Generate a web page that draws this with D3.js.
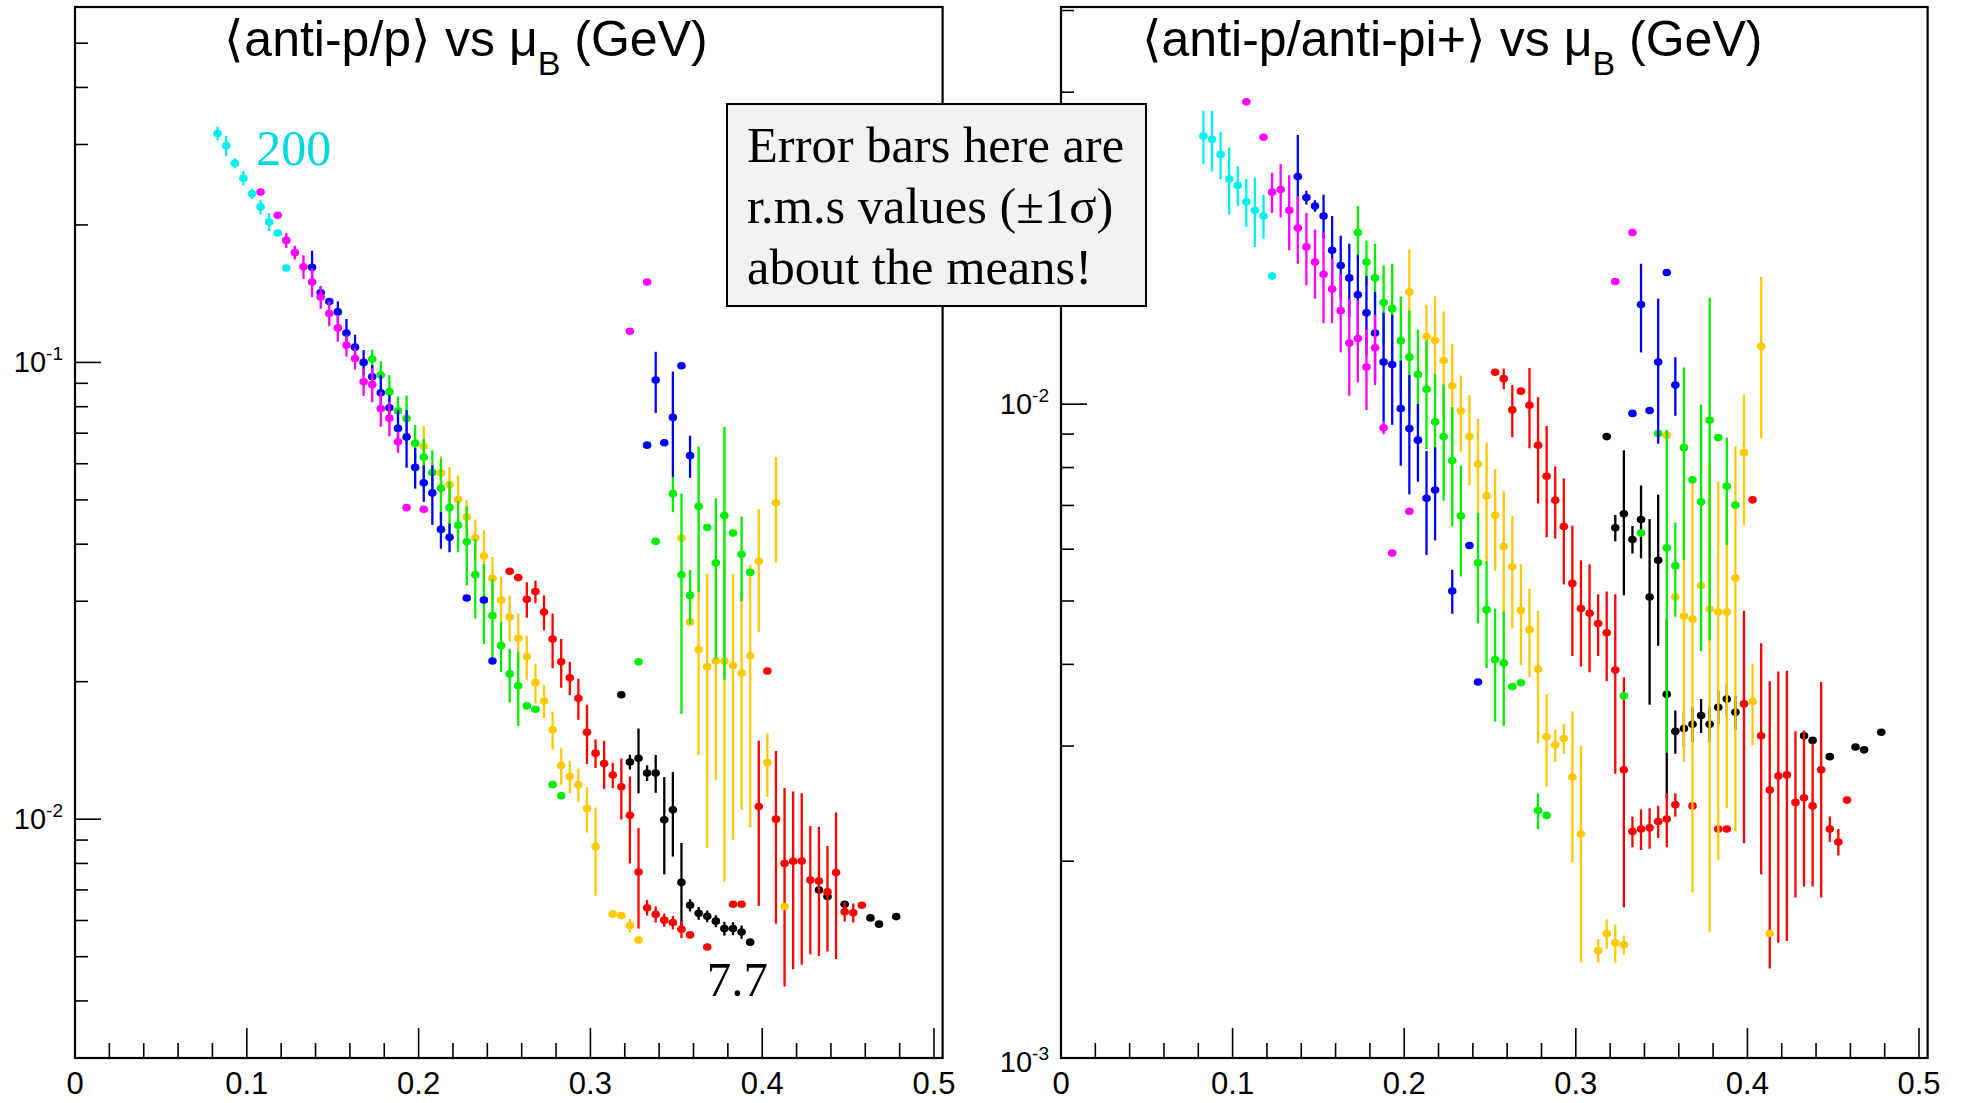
<!DOCTYPE html>
<html>
<head>
<meta charset="utf-8">
<script src="https://cdn.jsdelivr.net/npm/d3@7"></script>
<style>
  html, body { margin: 0; padding: 0; background: #ffffff; }
  svg { display: block; }
</style>
</head>
<body>
<svg id="chart" width="1961" height="1103"></svg>
<script>
// Collision energies (GeV) of the beam-energy-scan sets, one colour each.
const energies = ["200", "62.4", "39", "27", "19.6", "11.5", "7.7"];

// Each point: [mu_B (GeV), mean ratio, r.m.s. spread (±1σ)]
// ---- <anti-p/p> ----
const pp200 = [
  [0.083, 0.317, 0.011], [0.088, 0.298, 0.015], [0.093, 0.273, 0.007], [0.098, 0.253, 0.009],
  [0.103, 0.234, 0.006], [0.108, 0.219, 0.008], [0.113, 0.203, 0.009], [0.118, 0.192, 0.002],
  [0.123, 0.161, 0]
];
const pp62 = [
  [0.108, 0.236, 0], [0.118, 0.210, 0], [0.123, 0.185, 0.007], [0.128, 0.174, 0.006],
  [0.133, 0.162, 0.0096], [0.138, 0.150, 0.011], [0.143, 0.139, 0.008], [0.148, 0.128, 0.008],
  [0.153, 0.119, 0.008], [0.158, 0.109, 0.006], [0.163, 0.102, 0.0055], [0.168, 0.0907, 0.0063],
  [0.173, 0.0894, 0.0076], [0.178, 0.0793, 0.007], [0.183, 0.0755, 0.0066], [0.188, 0.067, 0.0036],
  [0.193, 0.0481, 0], [0.203, 0.0477, 0], [0.323, 0.117, 0], [0.333, 0.150, 0]
];
const pp39 = [
  [0.138, 0.1615, 0.014], [0.143, 0.142, 0.0046], [0.148, 0.136, 0.002], [0.153, 0.129, 0.007],
  [0.158, 0.116, 0.0085], [0.163, 0.108, 0.007], [0.168, 0.100, 0.0064], [0.173, 0.093, 0.0057],
  [0.178, 0.0858, 0.008], [0.183, 0.0796, 0.0052], [0.188, 0.0717, 0.0069], [0.193, 0.0687, 0.0099],
  [0.198, 0.0589, 0.006], [0.203, 0.0545, 0.005], [0.208, 0.0518, 0.0077], [0.213, 0.0431, 0.004],
  [0.218, 0.0414, 0.003], [0.228, 0.0305, 0], [0.238, 0.0302, 0], [0.243, 0.0222, 0],
  [0.333, 0.0659, 0], [0.338, 0.0915, 0.014], [0.343, 0.0667, 0], [0.348, 0.0758, 0.0197],
  [0.353, 0.0983, 0], [0.358, 0.0625, 0.0066]
];
const pp27 = [
  [0.173, 0.1017, 0.005], [0.178, 0.0938, 0.0067], [0.183, 0.0862, 0.0076], [0.188, 0.0784, 0.0058],
  [0.193, 0.0754, 0.0092], [0.198, 0.0665, 0.0064], [0.203, 0.0621, 0.006], [0.208, 0.0574, 0.0068],
  [0.213, 0.053, 0.0086], [0.218, 0.0481, 0.0067], [0.223, 0.044, 0.0056], [0.228, 0.0405, 0.008],
  [0.233, 0.0343, 0.0068], [0.238, 0.0302, 0.006], [0.243, 0.0279, 0.0057], [0.248, 0.024, 0.003],
  [0.253, 0.0208, 0.0028], [0.258, 0.0196, 0.0036], [0.263, 0.0177, 0], [0.268, 0.0174, 0],
  [0.278, 0.0119, 0], [0.283, 0.01125, 0], [0.328, 0.0221, 0], [0.338, 0.0406, 0],
  [0.348, 0.0516, 0.0046], [0.353, 0.0343, 0.0173], [0.358, 0.0309, 0.0042], [0.363, 0.0484, 0.017],
  [0.368, 0.0435, 0], [0.373, 0.0364, 0.014], [0.378, 0.0462, 0.026], [0.383, 0.0423, 0],
  [0.388, 0.038, 0.008], [0.393, 0.0347, 0]
];
const pp19 = [
  [0.203, 0.0655, 0.007], [0.213, 0.0573, 0.005], [0.218, 0.054, 0.005], [0.223, 0.0501, 0.0065],
  [0.228, 0.0459, 0.004], [0.233, 0.0413, 0.004], [0.238, 0.0377, 0.0052], [0.243, 0.0337, 0.0038],
  [0.248, 0.0302, 0.0038], [0.253, 0.0277, 0.0032], [0.258, 0.0249, 0.0033], [0.263, 0.0227, 0.0025],
  [0.268, 0.0199, 0.002], [0.273, 0.01815, 0.0015], [0.278, 0.0157, 0.0015], [0.283, 0.0131, 0.0012],
  [0.288, 0.0124, 0.001], [0.293, 0.0119, 0.001], [0.298, 0.01055, 0.0012], [0.303, 0.0087, 0.0019],
  [0.313, 0.0062, 0], [0.318, 0.00615, 0], [0.323, 0.00585, 0.0002], [0.328, 0.00544, 0],
  [0.353, 0.0412, 0], [0.358, 0.027, 0], [0.363, 0.0235, 0.0097], [0.368, 0.02155, 0.0129],
  [0.373, 0.0222, 0.01], [0.378, 0.0222, 0.0149], [0.383, 0.0217, 0.0127], [0.388, 0.0209, 0.0104],
  [0.393, 0.0228, 0.0132], [0.398, 0.0367, 0.011], [0.403, 0.0133, 0.0021], [0.408, 0.0493, 0.0128],
  [0.413, 0.00644, 0]
];
const pp11 = [
  [0.253, 0.0349, 0], [0.258, 0.0338, 0], [0.263, 0.0303, 0.0027], [0.268, 0.0315, 0.0018],
  [0.273, 0.0284, 0.0025], [0.278, 0.0248, 0.0034], [0.283, 0.0221, 0.0027], [0.288, 0.0204, 0.0017],
  [0.293, 0.0184, 0.0019], [0.298, 0.0155, 0.0023], [0.303, 0.01395, 0.001], [0.308, 0.01324, 0.0016],
  [0.313, 0.01249, 0.0008], [0.318, 0.01178, 0.0018], [0.323, 0.0102, 0.0022], [0.328, 0.00766, 0.0019],
  [0.333, 0.0064, 0.00025], [0.338, 0.00619, 0.00025], [0.343, 0.00601, 0.0002], [0.348, 0.00594, 0.0002],
  [0.353, 0.00574, 0.00025], [0.358, 0.00558, 0], [0.368, 0.00525, 0], [0.383, 0.00651, 0],
  [0.388, 0.00651, 0], [0.398, 0.01066, 0.0042], [0.403, 0.0211, 0], [0.408, 0.01, 0.0041],
  [0.413, 0.008, 0.0037], [0.418, 0.00809, 0.0034], [0.423, 0.0081, 0.0033], [0.428, 0.00736, 0.0023],
  [0.433, 0.00732, 0.0023], [0.438, 0.00693, 0.0018], [0.443, 0.00764, 0.0027], [0.448, 0.00627, 0.0003],
  [0.453, 0.00624, 0.0003], [0.458, 0.00648, 0]
];
const pp7 = [
  [0.318, 0.01873, 0], [0.323, 0.01334, 0.0005], [0.328, 0.01359, 0.0022], [0.333, 0.01262, 0.0005],
  [0.338, 0.01262, 0.0012], [0.343, 0.00997, 0.0024], [0.348, 0.01048, 0.0022], [0.353, 0.00727, 0.0016],
  [0.358, 0.00648, 0.0002], [0.363, 0.00622, 0.0002], [0.368, 0.00613, 0.00018], [0.373, 0.00598, 0.00018],
  [0.378, 0.00576, 0.0002], [0.383, 0.00576, 0.00019], [0.388, 0.00566, 0.00019], [0.393, 0.00538, 0],
  [0.433, 0.007, 0], [0.438, 0.00677, 0], [0.448, 0.00651, 0], [0.463, 0.00608, 0],
  [0.468, 0.00589, 0], [0.478, 0.00612, 0]
];

// ---- <anti-p/anti-pi+> ----
const ppi200 = [
  [0.083, 0.0257, 0.0024], [0.088, 0.0254, 0.0027], [0.093, 0.0241, 0.002], [0.098, 0.0221, 0.0026],
  [0.103, 0.0216, 0.0015], [0.108, 0.0204, 0.0017], [0.113, 0.0198, 0.0024], [0.118, 0.0194, 0.0015],
  [0.123, 0.0157, 0]
];
const ppi62 = [
  [0.108, 0.029, 0], [0.118, 0.0256, 0], [0.123, 0.0211, 0.0015], [0.128, 0.0213, 0.002],
  [0.133, 0.0198, 0.0026], [0.138, 0.0186, 0.0022], [0.143, 0.0174, 0.0022], [0.148, 0.0165, 0.002],
  [0.153, 0.0158, 0.0025], [0.158, 0.0150, 0.0017], [0.163, 0.0139, 0.0019], [0.168, 0.0124, 0.0021],
  [0.173, 0.0126, 0.0018], [0.178, 0.0114, 0.0016], [0.183, 0.0122, 0.0015], [0.188, 0.0092, 0.0002],
  [0.193, 0.00592, 0], [0.203, 0.00686, 0], [0.323, 0.0154, 0], [0.333, 0.0183, 0]
];
const ppi39 = [
  [0.138, 0.0223, 0.0035], [0.143, 0.0207, 0.0005], [0.148, 0.0201, 0.0004], [0.153, 0.0194, 0.0015],
  [0.158, 0.0172, 0.0022], [0.163, 0.0163, 0.0018], [0.168, 0.0156, 0.002], [0.173, 0.0147, 0.0022],
  [0.178, 0.0138, 0.0019], [0.183, 0.01285, 0.002], [0.188, 0.0116, 0.0022], [0.193, 0.0115, 0.0022],
  [0.198, 0.00985, 0.0018], [0.203, 0.00918, 0.0019], [0.208, 0.00881, 0.0012], [0.213, 0.00718, 0.0013],
  [0.218, 0.00739, 0.0012], [0.228, 0.00518, 0.0004], [0.238, 0.00608, 0], [0.243, 0.00376, 0],
  [0.333, 0.00968, 0], [0.338, 0.0142, 0.0022], [0.343, 0.00978, 0], [0.348, 0.0116, 0.0029],
  [0.353, 0.0159, 0], [0.358, 0.0107, 0.0011]
];
const ppi27 = [
  [0.173, 0.0183, 0.0018], [0.178, 0.0165, 0.0013], [0.183, 0.0156, 0.002], [0.188, 0.0143, 0.002],
  [0.193, 0.0140, 0.0024], [0.198, 0.0125, 0.0021], [0.203, 0.0118, 0.0021], [0.208, 0.0111, 0.0019],
  [0.213, 0.01054, 0.002], [0.218, 0.0094, 0.0017], [0.223, 0.00892, 0.0018], [0.228, 0.0082, 0.0017],
  [0.233, 0.00675, 0.0013], [0.243, 0.00572, 0.0011], [0.248, 0.00485, 0.0009], [0.253, 0.00407, 0.0008],
  [0.258, 0.00402, 0.0008], [0.263, 0.0037, 0], [0.268, 0.00375, 0], [0.278, 0.00239, 0.00015],
  [0.283, 0.00235, 0], [0.328, 0.00358, 0], [0.338, 0.00635, 0], [0.348, 0.00902, 0],
  [0.353, 0.00603, 0.0031], [0.358, 0.00566, 0.00093], [0.363, 0.00858, 0.0028], [0.368, 0.00766, 0],
  [0.373, 0.00709, 0.0029], [0.378, 0.00945, 0.0051], [0.383, 0.00889, 0], [0.388, 0.00749, 0.0014],
  [0.393, 0.00701, 0]
];
const ppi19 = [
  [0.203, 0.01484, 0.0024], [0.213, 0.01269, 0.0015], [0.218, 0.01252, 0.0021], [0.223, 0.01166, 0.0022],
  [0.228, 0.01067, 0.0017], [0.233, 0.00976, 0.0013], [0.238, 0.00892, 0.0014], [0.243, 0.0081, 0.0014],
  [0.248, 0.00724, 0.0015], [0.253, 0.00676, 0.0012], [0.258, 0.00606, 0.0013], [0.263, 0.00564, 0.0011],
  [0.268, 0.00484, 0.00085], [0.273, 0.00452, 0.0007], [0.278, 0.00393, 0.0009], [0.283, 0.0031, 0.0005],
  [0.288, 0.00301, 0.00017], [0.293, 0.00308, 0.00016], [0.298, 0.00269, 0.0007], [0.303, 0.0022, 0.0008],
  [0.313, 0.00146, 0.00006], [0.318, 0.00155, 0.00008], [0.323, 0.0015, 0.0001], [0.328, 0.00149, 0.00005],
  [0.353, 0.00896, 0], [0.358, 0.00507, 0], [0.363, 0.00474, 0.0019], [0.368, 0.00469, 0.0029],
  [0.373, 0.00528, 0], [0.378, 0.00486, 0.0033], [0.383, 0.00481, 0.0028], [0.388, 0.00481, 0.0024],
  [0.393, 0.00542, 0.0032], [0.398, 0.00843, 0.0019], [0.403, 0.00351, 0.0005], [0.408, 0.01226, 0.0034],
  [0.413, 0.00155, 0]
];
const ppi11 = [
  [0.253, 0.01119, 0], [0.258, 0.01094, 0.0004], [0.263, 0.0098, 0.0009], [0.268, 0.01047, 0],
  [0.273, 0.00996, 0.0014], [0.278, 0.00865, 0.0016], [0.283, 0.00776, 0.0015], [0.288, 0.00713, 0.0009],
  [0.293, 0.0065, 0.0012], [0.298, 0.00532, 0.0012], [0.303, 0.00487, 0.0009], [0.308, 0.00479, 0.0009],
  [0.313, 0.00462, 0.0005], [0.318, 0.00447, 0.0007], [0.323, 0.00392, 0.0012], [0.328, 0.00276, 0.00106],
  [0.333, 0.00222, 0.00012], [0.338, 0.00224, 0.00016], [0.343, 0.00225, 0.00016], [0.348, 0.0023, 0.00013],
  [0.353, 0.00232, 0.00022], [0.358, 0.00244, 0.0001], [0.368, 0.00243, 0], [0.383, 0.00224, 0],
  [0.388, 0.00224, 0], [0.398, 0.00348, 0.00135], [0.403, 0.00714, 0], [0.408, 0.00311, 0.0012],
  [0.413, 0.00257, 0.0012], [0.418, 0.0027, 0.0012], [0.423, 0.00271, 0.0012], [0.428, 0.00246, 0.0007],
  [0.433, 0.0025, 0.00067], [0.438, 0.00243, 0.0006], [0.443, 0.00276, 0.001], [0.448, 0.00224, 0.0001],
  [0.453, 0.00214, 0.0001], [0.458, 0.00248, 0]
];
const ppi7 = [
  [0.318, 0.00892, 0], [0.323, 0.00647, 0.0003], [0.328, 0.0068, 0.0017], [0.333, 0.00621, 0.0003],
  [0.338, 0.00666, 0.00085], [0.343, 0.00507, 0.0016], [0.348, 0.00577, 0.0015], [0.353, 0.0036, 0.0011],
  [0.358, 0.00316, 0.00024], [0.363, 0.00319, 0.0002], [0.368, 0.00324, 0.0002], [0.373, 0.00334, 0.0002],
  [0.378, 0.00324, 0.0002], [0.383, 0.00344, 0.0002], [0.388, 0.00354, 0.0002], [0.393, 0.00338, 0.0002],
  [0.433, 0.00311, 0], [0.438, 0.00306, 0], [0.448, 0.00289, 0], [0.463, 0.00299, 0],
  [0.468, 0.00296, 0], [0.478, 0.00315, 0]
];

const xTickLabels = ["0", "0.1", "0.2", "0.3", "0.4", "0.5"];
const noteLines = ["Error bars here are", "r.m.s values (\u00B11\u03C3)", "about the means!"];

// ---------------------------------------------------------------------------
const colorOf = {
  "200": "#00f0f0", "62.4": "#ff00ff", "39": "#0000ff", "27": "#00ee00",
  "19.6": "#ffc800", "11.5": "#ff0000", "7.7": "#000000"
};
// draw order: low energies underneath
const drawOrder = ["7.7", "11.5", "19.6", "27", "39", "62.4", "200"];

const panels = [
  {
    id: "pp", x0: 75, x1: 942.6, y0: 7, y1: 1058, yDomain: [0.003, 0.6],
    titleMain: "\u27E8anti-p/p\u27E9 vs \u03BC", titleCx: 466,
    sets: { "200": pp200, "62.4": pp62, "39": pp39, "27": pp27, "19.6": pp19, "11.5": pp11, "7.7": pp7 }
  },
  {
    id: "ppi", x0: 1061, x1: 1927.6, y0: 7, y1: 1058, yDomain: [0.001, 0.0405],
    titleMain: "\u27E8anti-p/anti-pi+\u27E9 vs \u03BC", titleCx: 1452,
    sets: { "200": ppi200, "62.4": ppi62, "39": ppi39, "27": ppi27, "19.6": ppi19, "11.5": ppi11, "7.7": ppi7 }
  }
];

const svg = d3.select("#chart");
svg.append("rect").attr("width", 1961).attr("height", 1103).attr("fill", "#ffffff");
const defs = svg.append("defs");

const SANS = "'Liberation Sans', Arial, Helvetica, sans-serif";
const SERIF = "'Liberation Serif', 'Times New Roman', serif";

panels.forEach(p => {
  const x = d3.scaleLinear().domain([0, 0.505]).range([p.x0, p.x1]);
  const y = d3.scaleLog().domain(p.yDomain).range([p.y1, p.y0]);
  p.x = x; p.y = y;
  const g = svg.append("g").attr("class", "panel-" + p.id);

  // frame
  g.append("rect")
    .attr("x", p.x0).attr("y", p.y0)
    .attr("width", p.x1 - p.x0).attr("height", p.y1 - p.y0)
    .attr("fill", "none").attr("stroke", "#000").attr("stroke-width", 2.2);

  // x ticks (inside, from bottom axis)
  const xt = d3.range(0, 26).map(i => i * 0.02);
  g.selectAll("line.xt").data(xt).join("line")
    .attr("x1", d => x(d)).attr("x2", d => x(d))
    .attr("y1", p.y1)
    .attr("y2", (d, i) => p.y1 - (i % 5 === 0 ? 30 : 15))
    .attr("stroke", "#000").attr("stroke-width", 1.6);
  g.selectAll("text.xl").data(xTickLabels).join("text")
    .attr("x", (d, i) => x(i * 0.1))
    .attr("y", 1094)
    .attr("text-anchor", "middle")
    .attr("font-family", SANS).attr("font-size", 31)
    .attr("fill", "#000")
    .text(d => d);

  // y ticks on log scale
  const [lo, hi] = p.yDomain;
  const yt = [];
  for (let e = Math.floor(Math.log10(lo)); e <= Math.ceil(Math.log10(hi)); e++) {
    for (let m = 1; m <= 9; m++) {
      const v = m * Math.pow(10, e);
      if (v >= lo * 0.999 && v <= hi) yt.push({ v, major: m === 1, e });
    }
  }
  g.selectAll("line.yt").data(yt).join("line")
    .attr("x1", p.x0).attr("x2", d => p.x0 + (d.major ? 26 : 13))
    .attr("y1", d => y(d.v)).attr("y2", d => y(d.v))
    .attr("stroke", "#000").attr("stroke-width", 1.6);
  const yl = g.selectAll("text.yl").data(yt.filter(d => d.major)).join("text")
    .attr("x", p.x0 - 12)
    .attr("y", d => y(d.v) + 10 + (d.v === lo ? 4 : 0))
    .attr("text-anchor", "end")
    .attr("font-family", SANS).attr("font-size", 29)
    .attr("fill", "#000");
  yl.append("tspan").text("10");
  yl.append("tspan").attr("dy", -12).attr("font-size", 19).text(d => String(d.e));

  // data
  const clipId = "clip-" + p.id;
  defs.append("clipPath").attr("id", clipId)
    .append("rect").attr("x", p.x0).attr("y", p.y0)
    .attr("width", p.x1 - p.x0).attr("height", p.y1 - p.y0);
  const dg = g.append("g").attr("clip-path", `url(#${clipId})`);

  drawOrder.forEach(en => {
    const pts = p.sets[en];
    const col = colorOf[en];
    const sg = dg.append("g").attr("class", "set-" + en.replace(".", "_"));
    sg.selectAll("line").data(pts.filter(d => d[2] > 0)).join("line")
      .attr("x1", d => x(d[0])).attr("x2", d => x(d[0]))
      .attr("y1", d => y(d[1] + d[2]))
      .attr("y2", d => (d[1] - d[2] > lo * 0.5) ? y(d[1] - d[2]) : p.y1 + 5)
      .attr("stroke", col).attr("stroke-width", 2.3);
    sg.selectAll("ellipse").data(pts).join("ellipse")
      .attr("cx", d => x(d[0])).attr("cy", d => y(d[1]))
      .attr("rx", 4.3).attr("ry", 3.8)
      .attr("fill", col);
  });

  // title with subscript B
  const t = g.append("text")
    .attr("x", p.titleCx).attr("y", 56)
    .attr("text-anchor", "middle")
    .attr("font-family", SANS).attr("font-size", 50)
    .attr("fill", "#000");
  t.append("tspan").text(p.titleMain);
  t.append("tspan").attr("dy", 19).attr("font-size", 34).text("B");
  t.append("tspan").attr("dy", -19).text(" (GeV)");
});

// energy labels
const L = panels[0];
svg.append("text")
  .attr("x", L.x(0.1055)).attr("y", 165)
  .attr("font-family", SERIF).attr("font-size", 50)
  .attr("fill", "#00d8e0")
  .text(energies[0]);
svg.append("text")
  .attr("x", L.x(0.3677)).attr("y", 996)
  .attr("font-family", SERIF).attr("font-size", 49)
  .attr("fill", "#000")
  .text(energies[6]);

// note box
const box = svg.append("g").attr("class", "note");
box.append("rect")
  .attr("x", 727).attr("y", 104).attr("width", 419).attr("height", 202)
  .attr("fill", "#f2f2f2").attr("stroke", "#000").attr("stroke-width", 2);
box.selectAll("text").data(noteLines).join("text")
  .attr("x", 747).attr("y", (d, i) => 162 + i * 61)
  .attr("font-family", SERIF).attr("font-size", 50.5)
  .attr("fill", "#000")
  .text(d => d);
</script>
</body>
</html>
